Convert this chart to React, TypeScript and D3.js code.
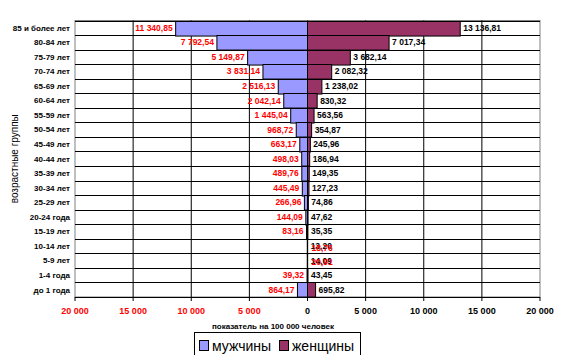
import { useEffect, useRef } from "react";
import * as d3 from "d3";

const categories = [
  "85 и более лет",
  "80-84 лет",
  "75-79 лет",
  "70-74 лет",
  "65-69 лет",
  "60-64 лет",
  "55-59 лет",
  "50-54 лет",
  "45-49 лет",
  "40-44 лет",
  "35-39 лет",
  "30-34 лет",
  "25-29 лет",
  "20-24 года",
  "15-19 лет",
  "10-14 лет",
  "5-9 лет",
  "1-4 года",
  "до 1 года",
];

const male = [
  11340.85, 7792.54, 5149.87, 3831.14, 2516.13, 2042.14, 1445.04, 968.72,
  663.17, 498.03, 489.76, 445.49, 266.96, 144.09, 83.16, 18.76, 20.91, 39.32,
  864.17,
];

const female = [
  13136.81, 7017.34, 3682.14, 2082.32, 1238.02, 830.32, 563.56, 354.87, 245.96,
  186.94, 149.35, 127.23, 74.86, 47.62, 35.35, 13.2, 14.09, 43.45, 695.82,
];

const xTicks = [-20000, -15000, -10000, -5000, 0, 5000, 10000, 15000, 20000];

const MALE_COLOR = "#9999FF";
const FEMALE_COLOR = "#993366";
const FONT = "Arial, 'Liberation Sans', sans-serif";

// формат как в Excel: "11 340,85"
const fmtNum = (v: number, digits: number) => {
  const s = Math.abs(v).toFixed(digits);
  const [int, frac] = s.split(".");
  const grouped = int.replace(/\B(?=(\d{3})+(?!\d))/g, " ");
  return frac ? `${grouped},${frac}` : grouped;
};

const PyramidChart = () => {
  const svgRef = useRef<SVGSVGElement | null>(null);

  useEffect(() => {
    if (!svgRef.current) return;
    const svg = d3.select(svgRef.current);
    svg.selectAll("*").remove();

    const left = 75;
    const right = 540;
    const top = 20.5;
    const bottom = 297;

    const x = d3.scaleLinear().domain([-20000, 20000]).range([left, right]);
    const y = d3
      .scaleBand<string>()
      .domain(categories)
      .range([top, bottom])
      .padding(0);

    // фон области построения
    svg
      .append("rect")
      .attr("x", left)
      .attr("y", top)
      .attr("width", right - left)
      .attr("height", bottom - top)
      .attr("fill", "#fff")
      .attr("stroke", "#808080");

    // вертикальные линии сетки
    svg
      .append("g")
      .selectAll("line")
      .data(xTicks.slice(1, -1))
      .join("line")
      .attr("x1", (d) => x(d))
      .attr("x2", (d) => x(d))
      .attr("y1", top)
      .attr("y2", bottom)
      .attr("stroke", "#000");

    // горизонтальные линии между группами
    svg
      .append("g")
      .selectAll("line")
      .data(categories)
      .join("line")
      .attr("x1", left)
      .attr("x2", right)
      .attr("y1", (d) => Math.round(y(d)!) + 0.5)
      .attr("y2", (d) => Math.round(y(d)!) + 0.5)
      .attr("stroke", "#000");

    const rows = categories.map((c, i) => ({ c, m: male[i], f: female[i] }));

    // мужчины (влево)
    svg
      .append("g")
      .selectAll("rect")
      .data(rows)
      .join("rect")
      .attr("x", (d) => x(-d.m))
      .attr("y", (d) => Math.round(y(d.c)!) + 0.5)
      .attr("width", (d) => x(0) - x(-d.m))
      .attr("height", y.bandwidth())
      .attr("fill", MALE_COLOR)
      .attr("stroke", "#000");

    // женщины (вправо)
    svg
      .append("g")
      .selectAll("rect")
      .data(rows)
      .join("rect")
      .attr("x", x(0))
      .attr("y", (d) => Math.round(y(d.c)!) + 0.5)
      .attr("width", (d) => x(d.f) - x(0))
      .attr("height", y.bandwidth())
      .attr("fill", FEMALE_COLOR)
      .attr("stroke", "#000");

    // подписи данных - женщины
    svg
      .append("g")
      .selectAll("text")
      .data(rows)
      .join("text")
      .attr("x", (d) => x(d.f) + 3)
      .attr("y", (d) => y(d.c)! + y.bandwidth() / 2)
      .attr("dy", "0.35em")
      .attr("font-family", FONT)
      .attr("font-weight", "bold")
      .attr("font-size", 8.5)
      .attr("fill", "#000")
      .text((d) => fmtNum(d.f, 2));

    // подписи данных - мужчины (очень малые уходят вправо, как в оригинале)
    svg
      .append("g")
      .selectAll("text")
      .data(rows)
      .join("text")
      .attr("x", (d) => (d.m < 25 ? x(0) + 4 : x(-d.m) - 3))
      .attr("y", (d) => y(d.c)! + y.bandwidth() / 2 + (d.m < 25 ? 1.5 : 0))
      .attr("dy", "0.35em")
      .attr("text-anchor", (d) => (d.m < 25 ? "start" : "end"))
      .attr("font-family", FONT)
      .attr("font-weight", "bold")
      .attr("font-size", 8.5)
      .attr("fill", "#FF0000")
      .text((d) => fmtNum(d.m, 2));

    // ось X
    svg
      .append("line")
      .attr("x1", left)
      .attr("x2", right)
      .attr("y1", bottom + 0.5)
      .attr("y2", bottom + 0.5)
      .attr("stroke", "#000");

    svg
      .append("g")
      .selectAll("line")
      .data(xTicks)
      .join("line")
      .attr("x1", (d) => x(d))
      .attr("x2", (d) => x(d))
      .attr("y1", bottom)
      .attr("y2", bottom + 4)
      .attr("stroke", "#000");

    svg
      .append("g")
      .selectAll("text")
      .data(xTicks)
      .join("text")
      .attr("x", (d) => x(d))
      .attr("y", 311)
      .attr("dy", "0.35em")
      .attr("text-anchor", "middle")
      .attr("font-family", FONT)
      .attr("font-weight", "bold")
      .attr("font-size", 9)
      .attr("fill", (d) => (d < 0 ? "#FF0000" : "#000"))
      .text((d) => fmtNum(d, 0));

    // подписи категорий
    svg
      .append("g")
      .selectAll("text")
      .data(categories)
      .join("text")
      .attr("x", 70)
      .attr("y", (d) => y(d)! + y.bandwidth() / 2)
      .attr("dy", "0.35em")
      .attr("text-anchor", "end")
      .attr("font-family", FONT)
      .attr("font-weight", "bold")
      .attr("font-size", 8)
      .attr("fill", "#000")
      .text((d) => d);

    // заголовки осей
    svg
      .append("text")
      .attr("x", 273)
      .attr("y", 326)
      .attr("dy", "0.35em")
      .attr("text-anchor", "middle")
      .attr("font-family", FONT)
      .attr("font-weight", "bold")
      .attr("font-size", 8)
      .text("показатель на 100 000 человек");

    svg
      .append("text")
      .attr("transform", `translate(14, ${(top + bottom) / 2}) rotate(-90)`)
      .attr("dy", "0.35em")
      .attr("text-anchor", "middle")
      .attr("font-family", FONT)
      .attr("font-size", 10)
      .text("возрастные группы");

    // легенда
    const legend = svg.append("g");
    legend
      .append("rect")
      .attr("x", 194.5)
      .attr("y", 332.5)
      .attr("width", 166)
      .attr("height", 25)
      .attr("fill", "#fff")
      .attr("stroke", "#000");

    const items = [
      { label: "мужчины", color: MALE_COLOR, x: 199 },
      { label: "женщины", color: FEMALE_COLOR, x: 279 },
    ];
    items.forEach((it) => {
      legend
        .append("rect")
        .attr("x", it.x + 0.5)
        .attr("y", 340.5)
        .attr("width", 9)
        .attr("height", 10)
        .attr("fill", it.color)
        .attr("stroke", "#000");
      legend
        .append("text")
        .attr("x", it.x + 13)
        .attr("y", 346)
        .attr("dy", "0.35em")
        .attr("font-family", FONT)
        .attr("font-size", 14)
        .text(it.label);
    });
  }, []);

  return <svg width={588} height={363} ref={svgRef} style={{ display: "block" }} />;
};

export default function App() {
  return (
    <div style={{ margin: -8 }}>
      <PyramidChart />
    </div>
  );
}
